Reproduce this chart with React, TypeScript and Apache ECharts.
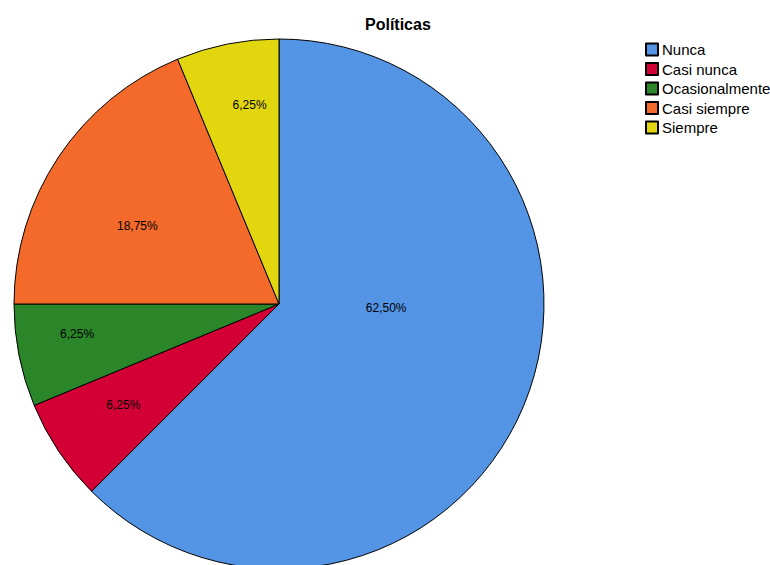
import React, { useEffect, useRef } from "react";
import * as echarts from "echarts";

const categories = ["Nunca", "Casi nunca", "Ocasionalmente", "Casi siempre", "Siempre"];
const values = [62.5, 6.25, 6.25, 18.75, 6.25];
const colors = ["#5394E4", "#D30036", "#2A8629", "#F36A2B", "#E2D60E"];
const labelShift = [
  [-18, -48],
  [-43, 26],
  [-69, 4],
  [-29, -3],
  [-3, -66],
];

export default function App() {
  const ref = useRef<HTMLDivElement>(null);
  useEffect(() => {
    document.body.style.margin = "0";
    const chart = echarts.init(ref.current!, null, { renderer: "svg" });
    chart.setOption({
      animation: false,
      backgroundColor: "#ffffff",
      title: {
        text: "Políticas",
        left: 360,
        top: 11,
        textStyle: { fontFamily: "Liberation Sans, Arial", fontSize: 16, fontWeight: "bold", color: "#000" },
      },
      legend: {
        orient: "vertical",
        left: 640,
        top: 37,
        itemWidth: 12,
        itemHeight: 12,
        itemGap: 4.5,
        icon: "rect",
        textStyle: { fontFamily: "Liberation Sans, Arial", fontSize: 15, color: "#000", padding: [0, 0, 0, -1] },
        data: categories,
      },
      series: [
        {
          type: "pie",
          center: [279, 304],
          radius: 265,
          startAngle: 90,
          clockwise: true,
          avoidLabelOverlap: false,
          label: {
            position: "inside",
            formatter: (p: any) => p.value.toFixed(2).replace(".", ",") + "%",
            fontFamily: "Liberation Sans, Arial",
            fontSize: 12,
            color: "#000",
          },
          labelLine: { show: false },
          labelLayout: (p: any) => ({ dx: labelShift[p.dataIndex][0], dy: labelShift[p.dataIndex][1] }),
          itemStyle: { borderColor: "#000", borderWidth: 1 },
          emphasis: { disabled: true },
          data: categories.map((c, i) => ({ name: c, value: values[i], itemStyle: { color: colors[i] } })),
        },
      ],
    });
    return () => chart.dispose();
  }, []);
  return <div ref={ref} style={{ width: 770, height: 565 }} />;
}
